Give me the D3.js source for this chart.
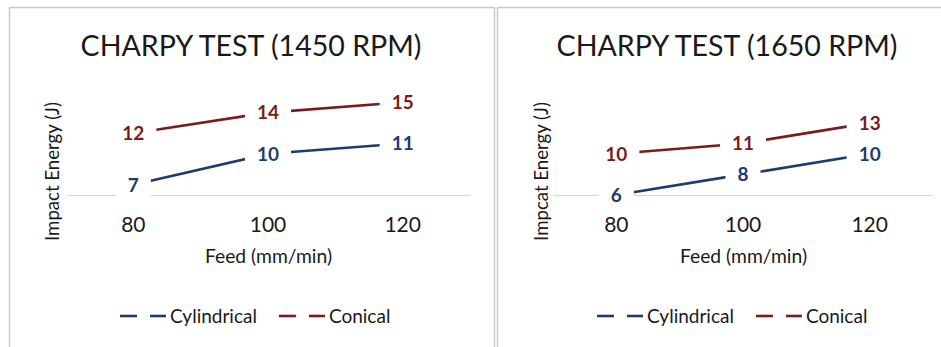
<!DOCTYPE html>
<html>
<head>
<meta charset="utf-8">
<script src="https://cdn.jsdelivr.net/npm/d3@7"></script>
<style>
  html, body { margin: 0; padding: 0; background: #fff; }
  svg { display: block; }
  text { font-family: Lato, "Open Sans", "Noto Sans", sans-serif; }
</style>
</head>
<body>
<svg id="chart" width="941" height="347"></svg>
<script>
// ---- data ----
const feeds = ["80", "100", "120"];
const cylindrical1450 = [7, 10, 11];
const conical1450 = [12, 14, 15];
const cylindrical1650 = [6, 8, 10];
const conical1650 = [10, 11, 13];
const seriesNames = ["Cylindrical", "Conical"];
const titles = ["CHARPY TEST (1450 RPM)", "CHARPY TEST (1650 RPM)"];
const yTitles = ["Impact Energy (J)", "Impcat Energy (J)"];
const xTitle = "Feed (mm/min)";
const colors = ["#1f3a70", "#7a1c1c"];

const svg = d3.select("#chart");

const panels = [
  { frame: [9.5, 7.5, 485, 360], plot: [66, 470], titleX: 251, yTitleX: 59, legendX: 120,
    series: [cylindrical1450, conical1450] },
  { frame: [497.5, 7.5, 460, 360], plot: [553, 933], titleX: 727, yTitleX: 547.5, legendX: 597,
    series: [cylindrical1650, conical1650] }
];

panels.forEach((p, i) => {
  const g = svg.append("g");
  // frame
  g.append("rect")
    .attr("x", p.frame[0]).attr("y", p.frame[1])
    .attr("width", p.frame[2]).attr("height", p.frame[3])
    .attr("fill", "#fff").attr("stroke", "#c9c9c9").attr("stroke-width", 1.5);

  const x = d3.scaleBand().domain(feeds).range(p.plot).paddingInner(0).paddingOuter(0);
  const y = d3.scaleLinear().domain([6, 16]).range([195, 92]);

  // title
  g.append("text").attr("x", p.titleX).attr("y", 56)
    .attr("text-anchor", "middle").attr("font-size", 28.6).attr("fill", "#1a1a1a")
    .text(titles[i]);

  // x axis
  const ax = g.append("g").attr("transform", `translate(0,${y(6)})`)
    .call(d3.axisBottom(x).tickSize(0).tickPadding(22));
  ax.select(".domain").attr("stroke", "#d4d4d4").attr("stroke-width", 1.2);
  ax.selectAll(".tick text").attr("font-size", 21).attr("fill", "#1a1a1a")
    .attr("font-family", "Lato, 'Open Sans', sans-serif");

  // axis titles
  g.append("text").attr("x", (p.plot[0] + p.plot[1]) / 2 + 0.5).attr("y", 263)
    .attr("text-anchor", "middle").attr("font-size", 19.3).attr("fill", "#1a1a1a")
    .text(xTitle);
  g.append("text")
    .attr("transform", `translate(${p.yTitleX},171.5) rotate(-90)`)
    .attr("text-anchor", "middle").attr("font-size", 18.6).attr("fill", "#1a1a1a")
    .text(yTitles[i]);

  // lines
  const line = d3.line().x((d, k) => x(feeds[k]) + x.bandwidth() / 2).y(d => y(d));
  p.series.forEach((s, si) => {
    g.append("path").datum(s).attr("d", line)
      .attr("fill", "none").attr("stroke", colors[si]).attr("stroke-width", 2.6)
      .attr("stroke-linecap", "round");
  });

  // labels with white background
  p.series.forEach((s, si) => {
    s.forEach((v, k) => {
      const cx = x(feeds[k]) + x.bandwidth() / 2, cy = y(v);
      const bg = g.append("rect").attr("fill", "#fff");
      const t = g.append("text").attr("x", cx).attr("y", cy).attr("dy", "0.36em")
        .attr("text-anchor", "middle").attr("font-size", 19).attr("font-weight", "bold")
        .attr("fill", colors[si]).text(v);
      const w = t.node().getComputedTextLength();
      bg.attr("x", cx - w / 2 - 12).attr("y", cy - 12).attr("width", w + 24).attr("height", 24);
    });
  });

  // legend
  let lx = p.legendX;
  const ly = 316;
  seriesNames.forEach((name, si) => {
    g.append("line").attr("x1", lx).attr("x2", lx + 17).attr("y1", ly).attr("y2", ly)
      .attr("stroke", colors[si]).attr("stroke-width", 2.6);
    g.append("line").attr("x1", lx + 30).attr("x2", lx + 46).attr("y1", ly).attr("y2", ly)
      .attr("stroke", colors[si]).attr("stroke-width", 2.6);
    const t = g.append("text").attr("x", lx + 50).attr("y", ly).attr("dy", "0.36em")
      .attr("font-size", 19).attr("fill", "#1a1a1a").text(name);
    lx += 50 + t.node().getComputedTextLength() + 22;
  });
});
</script>
</body>
</html>
